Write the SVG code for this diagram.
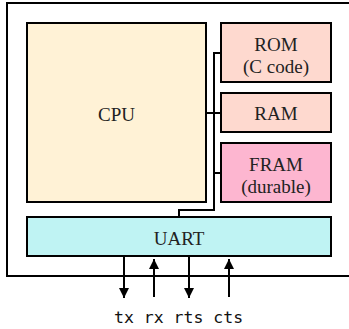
<svg xmlns="http://www.w3.org/2000/svg" width="349" height="329" viewBox="0 0 349 329">
<defs>
<style>
.box{stroke:#000;stroke-width:2}
.lbl{font-family:"Liberation Serif","Times New Roman",serif;font-size:19px;fill:#222;text-anchor:middle}
.wire{fill:none;stroke:#000;stroke-width:2}
.sig{font-family:"DejaVu Sans Mono","Liberation Mono",monospace;font-size:16.5px;fill:#111}
</style>
<marker id="ah" viewBox="0 0 10 10" refX="10" refY="5" markerWidth="10" markerHeight="10" markerUnits="userSpaceOnUse" orient="auto">
<path d="M0,0 L10,5 L0,10 Z" fill="#000"/>
</marker>
</defs>
<rect id="board" x="7" y="3" width="350" height="273" fill="#fff" class="box"/>
<g id="cpu"><rect x="27" y="23" width="179" height="179" fill="#fff2d6" class="box"/><text class="lbl" x="116.5" y="121">CPU</text></g>
<g id="rom"><rect x="221" y="23" width="110" height="59" fill="#fed9cf" class="box"/><text class="lbl" x="276" y="51">ROM</text><text class="lbl" x="276" y="73">(C code)</text></g>
<g id="ram"><rect x="221" y="93" width="110" height="39" fill="#fed9cf" class="box"/><text class="lbl" x="276" y="120">RAM</text></g>
<g id="fram"><rect x="221" y="143" width="110" height="59" fill="#fdb6d0" class="box"/><text class="lbl" x="276" y="171">FRAM</text><text class="lbl" x="276" y="193">(durable)</text></g>
<g id="uart"><rect x="27" y="217" width="304" height="39" fill="#bff3f3" class="box"/><text class="lbl" x="179" y="245">UART</text></g>
<g id="connectors">
<path class="wire" d="M221,53 H214 V210 H179 V217"/>
<path class="wire" d="M206,113 H221"/>
<path class="wire" d="M214,173 H221"/>
<path class="wire" d="M124,256 V298" marker-end="url(#ah)"/>
<path class="wire" d="M154,297 V259" marker-end="url(#ah)"/>
<path class="wire" d="M189,256 V298" marker-end="url(#ah)"/>
<path class="wire" d="M229,297 V259" marker-end="url(#ah)"/>
</g>
<text class="sig" x="114" y="322.5">tx rx rts cts</text>
</svg>
